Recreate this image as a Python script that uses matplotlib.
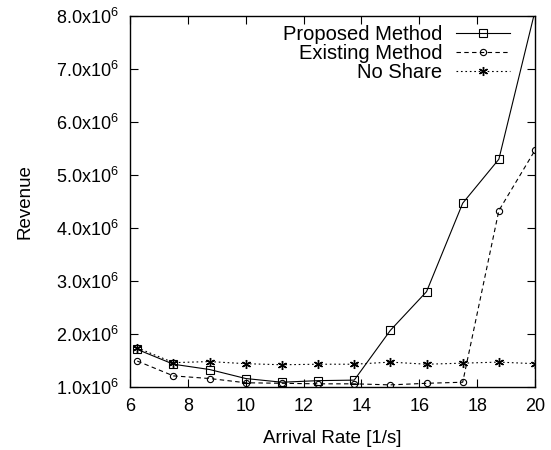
import matplotlib
matplotlib.use('Agg')
import matplotlib.pyplot as plt
from matplotlib.ticker import FuncFormatter

plt.rcParams['font.family'] = ['Liberation Sans', 'DejaVu Sans']
plt.rcParams['mathtext.fontset'] = 'custom'
plt.rcParams['mathtext.rm'] = 'Liberation Sans'
plt.rcParams['mathtext.it'] = 'Liberation Sans'

# Data (revenue in units of 1e6)
arrival_rate = [6.25, 7.5, 8.75, 10.0, 11.25, 12.5, 13.75, 15.0, 16.25, 17.5, 18.75, 20.0]
proposed = [1.71, 1.43, 1.33, 1.16, 1.09, 1.12, 1.13, 2.07, 2.80, 4.47, 5.30, 8.1]
existing = [1.49, 1.21, 1.16, 1.08, 1.07, 1.06, 1.06, 1.04, 1.07, 1.09, 4.33, 5.47]
no_share = [1.74, 1.46, 1.48, 1.44, 1.42, 1.43, 1.43, 1.47, 1.43, 1.45, 1.47, 1.44]

fig = plt.figure(figsize=(5.51, 4.5), dpi=100)
ax = fig.add_axes([0.236, 0.14, 0.735, 0.824])

lw = 0.8
ax.plot(arrival_rate, proposed, color='black', lw=lw, ls='-', marker='s',
        ms=5.5, mfc='none', mec='black', mew=0.8, label='Proposed Method')
ax.plot(arrival_rate, existing, color='black', lw=lw, ls=(0, (4, 3)), marker='o',
        ms=4.5, mfc='none', mec='black', mew=0.8, label='Existing Method')
ax.plot(arrival_rate, no_share, color='black', lw=lw, ls=(0, (1.5, 2.5)), marker=(6, 2, 0),
        ms=6.5, mec='black', mew=1.0, label='No Share')

ax.set_xlim(6, 20)
ax.set_ylim(1.0, 8.0)
ax.set_xticks(range(6, 21, 2))
ax.set_yticks([1, 2, 3, 4, 5, 6, 7, 8])
ax.yaxis.set_major_formatter(FuncFormatter(lambda v, p: '%.1fx10$^{6}$' % v))

ax.tick_params(direction='in', top=True, right=True, length=6, width=0.8,
               labelsize=13, pad=8)
for s in ax.spines.values():
    s.set_linewidth(1.0)

ax.set_xlabel('Arrival Rate [1/s]', fontsize=13.5, labelpad=11)
ax.set_ylabel('Revenue', fontsize=13.5, labelpad=16)

ax.legend(loc='upper right', bbox_to_anchor=(0.958, 0.997), frameon=False,
          markerfirst=False, fontsize=14.5, handlelength=2.7,
          handletextpad=0.65, labelspacing=0.0, borderaxespad=0)

fig.savefig('out.png', dpi=100)
